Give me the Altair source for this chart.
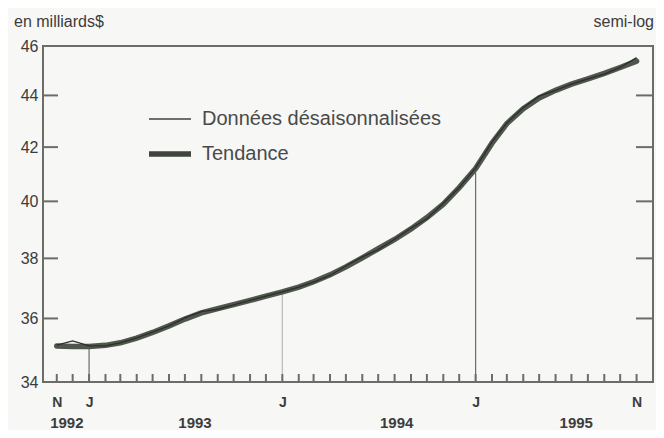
import altair as alt
import pandas as pd

# ---- data ----
months = pd.date_range("1992-11-01", "1995-11-01", freq="MS").strftime("%Y/%m/%d").tolist()
data_vals = [35.15, 35.28, 35.12, 35.12, 35.22, 35.38, 35.56, 35.76, 36.02, 36.22,
             36.30, 36.44, 36.59, 36.73, 36.87, 37.03, 37.20, 37.42, 37.74, 38.05,
             38.30, 38.66, 39.05, 39.38, 39.93, 40.50, 41.22, 42.20, 42.92, 43.52,
             43.97, 44.20, 44.45, 44.66, 44.85, 45.12, 45.52]
trend_vals = [35.12, 35.10, 35.10, 35.14, 35.22, 35.37, 35.55, 35.76, 35.98, 36.18,
              36.32, 36.45, 36.59, 36.73, 36.87, 37.03, 37.21, 37.44, 37.71, 38.02,
              38.33, 38.65, 39.02, 39.42, 39.90, 40.50, 41.20, 42.15, 42.90, 43.48,
              43.90, 44.20, 44.45, 44.66, 44.88, 45.12, 45.38]
series_names = ["Données désaisonnalisées", "Tendance"]
y_label_values = [34, 36, 38, 40, 42, 44, 46]
y_inner_ticks = [36, 38, 40, 42, 44]
month_label_dates = [(1992, 11), (1993, 1), (1994, 1), (1995, 1), (1995, 11)]
drop_dates = ["1993/01/01", "1994/01/01", "1995/01/01"]
drop_values = [35.10, 36.87, 41.05]
drop_colors = ["#6a6e66", "#b8bab5", "#6a6e66"]
year_labels = ["1992", "1993", "1994", "1995"]
year_dates = ["1992/11/20", "1993/07/20", "1994/08/05", "1995/07/10"]

W, H = 610, 336
LINE = "#3f453d"
FRAME = "#6a6e66"
TEXT = "#3c3c3c"
FONT = "Liberation Sans"

df = pd.DataFrame({
    "date": months * 2,
    "value": data_vals + trend_vals,
    "series": [series_names[0]] * len(months) + [series_names[1]] * len(months),
})
ticks_df = pd.DataFrame({"date": months})
yt_df = pd.DataFrame({"v": y_inner_ticks})
drops_df = pd.DataFrame({"date": drop_dates, "low": [34] * 3, "high": drop_values, "c": drop_colors})
years_df = pd.DataFrame({"date": year_dates, "label": year_labels})

xscale = alt.Scale(domain=[alt.DateTime(year=1992, month=10, date=6),
                           alt.DateTime(year=1995, month=12, date=2)])
yscale = alt.Scale(type="log", domain=[34, 46], nice=False)

xaxis = alt.Axis(values=[alt.DateTime(year=y, month=m, date=1) for y, m in month_label_dates],
                 labelExpr="month(datum.value) == 10 ? 'N' : 'J'",
                 ticks=False, domain=False, grid=False, title=None,
                 labelPadding=13, labelFontSize=14, labelFontWeight="bold",
                 labelColor=TEXT, labelFont=FONT)
yaxis = alt.Axis(values=y_label_values, ticks=False, domain=False, grid=False, title=None,
                 labelPadding=5, labelFontSize=16, labelColor=TEXT, labelFont=FONT)

sw = alt.StrokeWidth("series:N",
                     scale=alt.Scale(domain=series_names, range=[1.3, 5.5]),
                     legend=alt.Legend(orient="none", legendX=103, legendY=51, title=None,
                                       symbolType="stroke", symbolSize=1764,
                                       symbolStrokeColor=LINE, labelFontSize=20,
                                       labelColor="#4a4a4a", labelFont=FONT, labelLimit=0,
                                       labelOffset=8, rowPadding=1))

base = alt.Chart(df)
trend = base.transform_filter(alt.datum.series == series_names[1]).mark_line(
    color="#4f564c", strokeCap="round").encode(
    x=alt.X("date:T", scale=xscale, axis=xaxis),
    y=alt.Y("value:Q", scale=yscale, axis=yaxis),
    strokeWidth=sw)
data_line = base.transform_filter(alt.datum.series == series_names[0]).mark_line(
    color="#2c302b").encode(
    x=alt.X("date:T", scale=xscale),
    y=alt.Y("value:Q", scale=yscale),
    strokeWidth=sw)

xticks = alt.Chart(ticks_df).mark_rule(color=FRAME, strokeWidth=2).encode(
    x=alt.X("date:T", scale=xscale), y=alt.value(H), y2=alt.value(H - 8))
yticks_l = alt.Chart(yt_df).mark_rule(color=FRAME, strokeWidth=2).encode(
    y=alt.Y("v:Q", scale=yscale), x=alt.value(0), x2=alt.value(15))
yticks_r = alt.Chart(yt_df).mark_rule(color=FRAME, strokeWidth=2).encode(
    y=alt.Y("v:Q", scale=yscale), x=alt.value(W - 17), x2=alt.value(W))
drops = alt.Chart(drops_df).mark_rule(strokeWidth=1.2).encode(
    x=alt.X("date:T", scale=xscale), y=alt.Y("low:Q", scale=yscale),
    y2="high:Q", color=alt.Color("c:N", scale=None))
years = alt.Chart(years_df).mark_text(fontSize=15, fontWeight="bold", color=TEXT, font=FONT,
                                      baseline="middle").encode(
    x=alt.X("date:T", scale=xscale), y=alt.value(H + 41), text="label:N")
unit = alt.Chart(pd.DataFrame({"t": ["en milliards$"]})).mark_text(
    fontSize=16, color=TEXT, font=FONT, align="left", baseline="middle").encode(
    x=alt.value(-29), y=alt.value(-24), text="t:N")
semilog = alt.Chart(pd.DataFrame({"t": ["semi-log"]})).mark_text(
    fontSize=16, color=TEXT, font=FONT, align="right", baseline="middle").encode(
    x=alt.value(W + 1), y=alt.value(-24), text="t:N")

chart = alt.layer(drops, xticks, yticks_l, yticks_r, trend, data_line, years, unit, semilog).properties(
    width=W, height=H,
    autosize=alt.AutoSizeParams(type="none"),
    padding={"left": 35, "top": 38, "right": 3, "bottom": 48},
    background="#f7f7f5",
).configure_view(stroke=FRAME, strokeWidth=2)

chart.save("out.html", embed_options={"renderer": "svg", "actions": False})
